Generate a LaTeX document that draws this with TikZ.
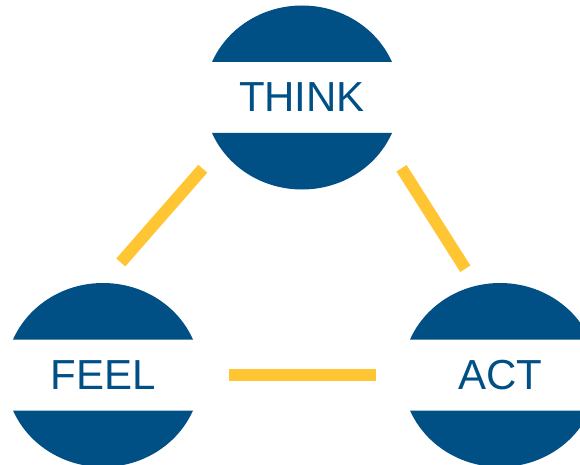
\documentclass[tikz,border=0pt]{standalone}
\usepackage{fontspec}
\setmainfont{Liberation Sans}
\usetikzlibrary{shapes.geometric}

\definecolor{mindblue}{RGB}{0,79,133}
\definecolor{linkyellow}{RGB}{255,197,50}

\tikzset{
  phase/.style={ellipse, text=mindblue, inner sep=0pt,
    minimum width=195pt, minimum height=184pt,
    font=\fontsize{42}{42}\selectfont,
    % blue caps above and below the white band
    path picture={\fill[mindblue]
      (path picture bounding box.north west) rectangle
      ([yshift=35.5pt]path picture bounding box.east)
      ([yshift=-35.5pt]path picture bounding box.west) rectangle
      (path picture bounding box.south east);}},
  link/.style={draw=linkyellow, line width=12pt}
}

\begin{document}
\begin{tikzpicture}[x=1pt, y=-1pt]
\useasboundingbox (0,0) rectangle (580,465);

\node[phase] (think) at (302,97.5) {THINK};
\node[phase] (feel) at (103,375) {FEEL};
\node[phase] (act) at (500,375) {ACT};

% yellow links, kept apart from the circles
\draw[link, shorten <=27pt, shorten >=27pt] (feel.90) -- (think.212);
\draw[link, shorten <=28.5pt, shorten >=20pt] (think.-29) -- (act.105);
\draw[link, shorten <=28.5pt, shorten >=26.5pt] (feel.east) -- (act.west);

\end{tikzpicture}
\end{document}
